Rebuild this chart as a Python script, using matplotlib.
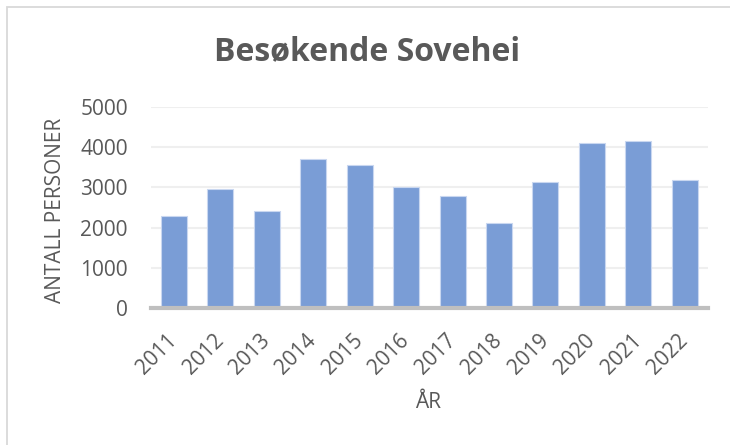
import matplotlib
matplotlib.use("Agg")
import matplotlib.pyplot as plt
from matplotlib.patches import Rectangle

years = ["2011", "2012", "2013", "2014", "2015", "2016", "2017", "2018", "2019", "2020", "2021", "2022"]
visitors = [2280, 2970, 2410, 3710, 3560, 3000, 2780, 2120, 3130, 4090, 4140, 3170]
y_ticks = [0, 1000, 2000, 3000, 4000, 5000]

title = "Besøkende Sovehei"
x_label = "ÅR"
y_label = "ANTALL PERSONER"

TEXT = "#595959"
BAR = "#7A9DD6"
FONT = ["Open Sans", "DejaVu Sans"]

fig = plt.figure(figsize=(7.30, 4.45), dpi=100)
fig.patch.set_facecolor("white")

# outer chart border (only left/top visible in reference)
fig.patches.append(Rectangle((6.7 / 730, -0.5), 1.5, 1.5 - 7.3 / 445,
                             transform=fig.transFigure, fill=False,
                             edgecolor="#D9D9D9", linewidth=1.3))

ax = fig.add_axes([150.7 / 730, 1 - 308.3 / 445, (708 - 150.7) / 730, (308.3 - 106.7) / 445])
x = range(len(years))
ax.bar(x, visitors, width=0.56, color=BAR, edgecolor="#C9D7F0", linewidth=0.8, zorder=3)

ax.set_xlim(-0.5, len(years) - 0.5)
ax.set_ylim(0, 5000)
ax.set_yticks(y_ticks)
ax.set_yticklabels([str(v) for v in y_ticks], fontsize=15, color=TEXT, family=FONT)
ax.set_xticks(list(x))
ax.set_xticklabels(years, fontsize=15, color=TEXT, family=FONT,
                   rotation=45, ha="right", va="center", rotation_mode="anchor")

ax.grid(axis="y", color="#EFEFEF", linewidth=1.5, zorder=0)
ax.set_axisbelow(True)
for s in ["top", "right", "left"]:
    ax.spines[s].set_visible(False)
ax.spines["bottom"].set_color("#BFBFBF")
ax.spines["bottom"].set_linewidth(3)
ax.spines["bottom"].set_zorder(4)
ax.tick_params(axis="both", length=0)
ax.tick_params(axis="y", pad=16.5)
ax.tick_params(axis="x", pad=21)

fig.text(56 / 730, 1 - 210 / 445, y_label, rotation=90, ha="center", va="center",
         fontsize=15, color=TEXT, family=FONT)
fig.text(428 / 730, 1 - 403 / 445, x_label, ha="center", va="center",
         fontsize=15, color=TEXT, family=FONT)
fig.text(367.5 / 730, 1 - 60 / 445, title, ha="center", va="baseline",
         fontsize=23, fontweight="bold", color=TEXT, family=FONT)

fig.savefig("out.png", dpi=100, facecolor="white")
